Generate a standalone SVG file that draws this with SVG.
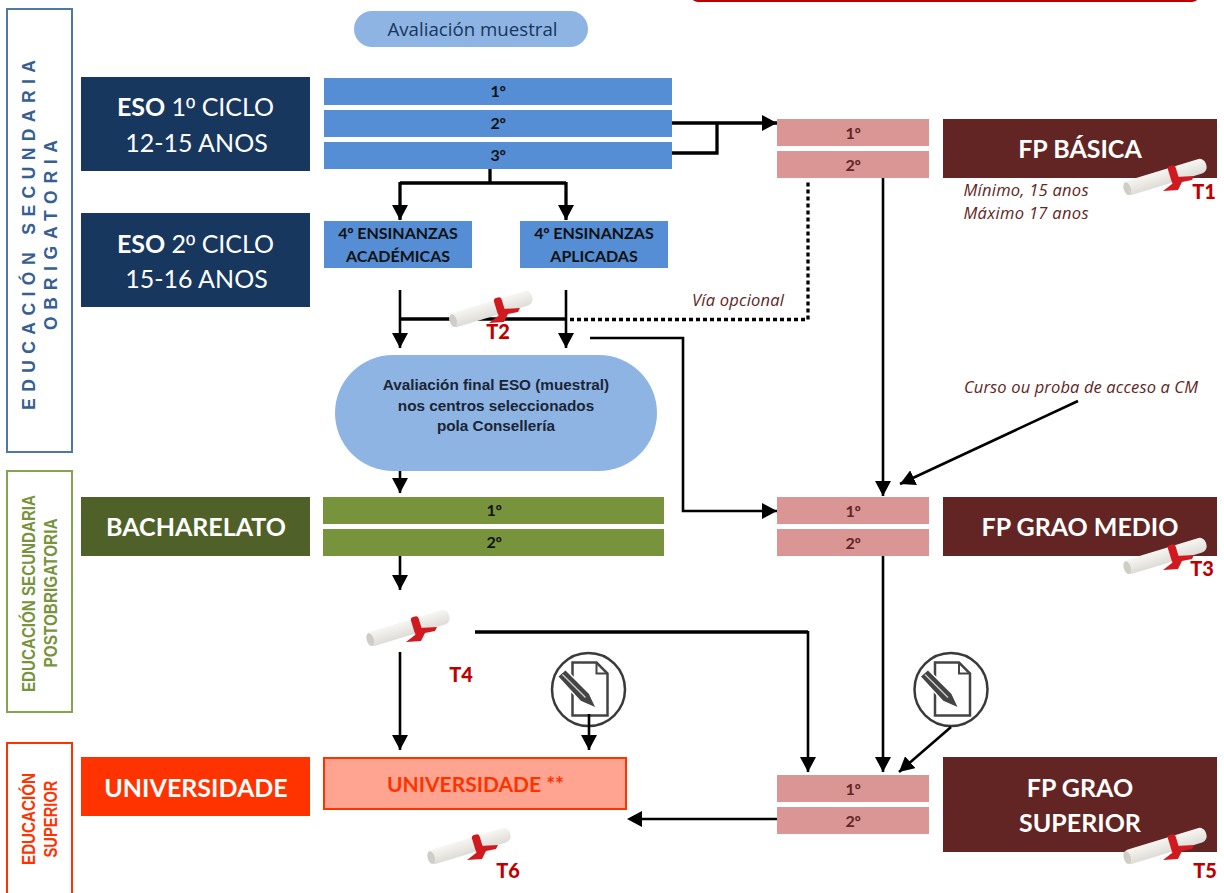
<svg xmlns="http://www.w3.org/2000/svg" width="1224" height="893" viewBox="0 0 1224 893">
<style>
text{font-family:"Lato","Carlito","Open Sans",sans-serif;text-anchor:middle}
.o{font-family:"Liberation Sans",Arial,sans-serif}
.e{font-family:"Open Sans",sans-serif}
.big{font-size:25px;fill:#fff}
.head{font-size:25px;fill:#fff;font-weight:700}
.bar{font-size:16px;font-weight:700;fill:#111}
.pk{font-size:16px;font-weight:700;fill:#632523}
.sm{font-size:16px;font-weight:700;fill:#111}
.note{font-family:"Open Sans",sans-serif;font-size:16.500px;font-style:italic;fill:#632523}
.t{font-size:20px;font-weight:900;fill:#C00000}
.side{font-family:"Liberation Sans",Arial,sans-serif;font-weight:700}
.c{fill:none;stroke:#000;stroke-width:2.6}
.c3{fill:none;stroke:#000;stroke-width:3.3}
.a{marker-end:url(#ah)}
</style>
<defs>
<marker id="ah" markerUnits="userSpaceOnUse" markerWidth="16" markerHeight="16" refX="15" refY="8" orient="auto"><path d="M0 0L15 8L0 16Z" fill="#000"/></marker>
<linearGradient id="rg" x1="0" y1="0" x2="0" y2="1"><stop offset="0" stop-color="#f7f6f2"/><stop offset="1" stop-color="#dddcd6"/></linearGradient>
<g id="scroll">
<g transform="rotate(-17)">
<rect x="-43" y="-7.500" width="86" height="15" rx="6.500" fill="url(#rg)"/>
<ellipse cx="-39.500" cy="0" rx="3.500" ry="6.500" fill="#cfcec6"/>
<rect x="5" y="-9" width="8" height="18" rx="3" fill="#d01a20"/>
</g>
<path d="M11 0L29 -1L27 3L17 5L13 13L-2 14L7 7Z" fill="#d01a20"/>
</g>
<g id="doc">
<circle r="36.500" fill="#fff" stroke="#3a3a3a" stroke-width="2.500"/>
<path d="M-16 -27H8L19 -16V26H-16Z" fill="#fff" stroke="#444" stroke-width="2.500"/>
<path d="M8 -27V-16H19" fill="none" stroke="#444" stroke-width="2"/>
<path d="M-31 -13L-23 -20L1 4L8 19L-8 12Z" fill="#444" stroke="#fff" stroke-width="1.500"/>
<path d="M-26 -15L-3 8" stroke="#ccc" stroke-width="1.500" fill="none"/>
</g>
</defs>
<path d="M693 0Q695 2 700 2H1190Q1195 2 1197 0Z" fill="#C00000"/>

<g id="side-eso"><rect x="7" y="9" width="65" height="443" fill="#fff" stroke="#4F77A8" stroke-width="2"/>
<text class="side" transform="translate(35,235) rotate(-90)" font-size="17.500" fill="#366092" textLength="350">EDUCACIÓN SECUNDARIA</text>
<text class="side" transform="translate(57,235) rotate(-90)" font-size="17.500" fill="#366092" textLength="190">OBRIGATORIA</text></g>
<g id="side-post"><rect x="7" y="471" width="65" height="241" fill="#fff" stroke="#86A34E" stroke-width="2"/>
<text class="side" transform="translate(35,593.500) rotate(-90)" font-size="19" fill="#77933C" textLength="197" lengthAdjust="spacingAndGlyphs">EDUCACIÓN SECUNDARIA</text>
<text class="side" transform="translate(57,593) rotate(-90)" font-size="19" fill="#77933C" textLength="149" lengthAdjust="spacingAndGlyphs">POSTOBRIGATORIA</text></g>
<g id="side-sup"><rect x="7" y="743" width="65" height="152" fill="#fff" stroke="#FF3300" stroke-width="2"/>
<text class="side" transform="translate(35,819) rotate(-90)" font-size="19" fill="#FF3300" textLength="92" lengthAdjust="spacingAndGlyphs">EDUCACIÓN</text>
<text class="side" transform="translate(57,819) rotate(-90)" font-size="19" fill="#FF3300" textLength="77" lengthAdjust="spacingAndGlyphs">SUPERIOR</text></g>

<g id="eval-top"><rect x="354" y="11" width="234" height="36" rx="18" fill="#8EB4E3"/><text class="e" x="472.500" y="36" font-size="18.700" fill="#17365D">Avaliación muestral</text></g>
<g id="eso1"><rect x="81" y="77" width="229" height="94" fill="#17375E"/><text class="big" x="195.500" y="116"><tspan font-weight="700">ESO</tspan> 1<tspan class="o">º</tspan> CICLO</text><text class="big" x="196.500" y="152">12-15 ANOS</text></g>
<g id="eso2"><rect x="81" y="213" width="229" height="94" fill="#17375E"/><text class="big" x="195.500" y="253"><tspan font-weight="700">ESO</tspan> 2<tspan class="o">º</tspan> CICLO</text><text class="big" x="196.500" y="288">15-16 ANOS</text></g>
<g id="c1"><rect x="324" y="78" width="348" height="27" fill="#558ED5"/><text class="bar" x="498" y="97">1<tspan class="o">º</tspan></text></g>
<g id="c2"><rect x="324" y="110" width="348" height="27" fill="#558ED5"/><text class="bar" x="498" y="129">2<tspan class="o">º</tspan></text></g>
<g id="c3"><rect x="324" y="142" width="348" height="27" fill="#558ED5"/><text class="bar" x="498" y="161">3<tspan class="o">º</tspan></text></g>
<g id="c4a"><rect x="324" y="221" width="148" height="47" fill="#558ED5"/><text class="sm" x="398" y="239">4<tspan class="o">º</tspan> ENSINANZAS</text><text class="sm" x="398" y="262">ACADÉMICAS</text></g>
<g id="c4b"><rect x="520" y="221" width="148" height="47" fill="#558ED5"/><text class="sm" x="594" y="239">4<tspan class="o">º</tspan> ENSINANZAS</text><text class="sm" x="594" y="262">APLICADAS</text></g>
<g id="eval-final"><rect x="335" y="355" width="322" height="116" rx="58" fill="#8EB4E3"/>
<g font-size="15.300" fill="#1B2535"><text class="side" x="496" y="390">Avaliación final ESO (muestral)</text><text class="side" x="496" y="411">nos centros seleccionados</text><text class="side" x="496" y="431">pola Consellería</text></g></g>
<g id="bach"><rect x="81" y="497" width="229" height="59" fill="#4F6128"/><text class="head" x="196" y="536">BACHARELATO</text></g>
<g id="b1"><rect x="323" y="497" width="341" height="27" fill="#77933C"/><text class="bar" x="494" y="516">1<tspan class="o">º</tspan></text></g>
<g id="b2"><rect x="323" y="529" width="341" height="27" fill="#77933C"/><text class="bar" x="494" y="548">2<tspan class="o">º</tspan></text></g>
<g id="univ"><rect x="81" y="757" width="229" height="59" fill="#FF3300"/><text class="head" x="196" y="797">UNIVERSIDADE</text></g>
<g id="univ2"><rect x="324" y="758" width="302" height="51" fill="#FFA491" stroke="#FF3300" stroke-width="2"/><text x="475.500" y="792" font-size="21" font-weight="700" fill="#FF3300">UNIVERSIDADE **</text></g>
<g id="fpb1"><rect x="777" y="119" width="152" height="27" fill="#D99694"/><text class="pk" x="853" y="139">1<tspan class="o">º</tspan></text></g>
<g id="fpb2"><rect x="777" y="151" width="152" height="27" fill="#D99694"/><text class="pk" x="853" y="171">2<tspan class="o">º</tspan></text></g>
<g id="fpm1"><rect x="777" y="497" width="152" height="27" fill="#D99694"/><text class="pk" x="853" y="517">1<tspan class="o">º</tspan></text></g>
<g id="fpm2"><rect x="777" y="529" width="152" height="27" fill="#D99694"/><text class="pk" x="853" y="549">2<tspan class="o">º</tspan></text></g>
<g id="fps1"><rect x="777" y="775" width="152" height="27" fill="#D99694"/><text class="pk" x="853" y="795">1<tspan class="o">º</tspan></text></g>
<g id="fps2"><rect x="777" y="807" width="152" height="27" fill="#D99694"/><text class="pk" x="853" y="827">2<tspan class="o">º</tspan></text></g>
<g id="fpb"><rect x="943" y="119" width="274" height="59" fill="#632523"/><text class="head" x="1080" y="158">FP BÁSICA</text></g>
<g id="fpm"><rect x="943" y="497" width="274" height="59" fill="#632523"/><text class="head" x="1080" y="536">FP GRAO MEDIO</text></g>
<g id="fps"><rect x="943" y="757" width="274" height="95" fill="#632523"/><text class="head" x="1080" y="797">FP GRAO</text><text class="head" x="1080" y="832">SUPERIOR</text></g>

<g id="connectors">
<path class="c3 a" d="M672 123H777"/>
<path class="c3" d="M672 153H717V123"/>
<path class="c3" d="M490 169V183M400 183H566"/>
<path class="c3 a" d="M400 182V220"/>
<path class="c3 a" d="M566 182V220"/>
<path class="c a" d="M400 290V348"/>
<path class="c a" d="M566 290V348"/>
<path class="c3" d="M400 319H566"/>
<path d="M570 319.500H808V180" fill="none" stroke="#000" stroke-width="3.300" stroke-dasharray="4 3"/>
<path class="c a" d="M590 338H683V511H777"/>
<path class="c a" d="M883 178V496"/>
<path class="c a" d="M1078 401L900 484"/>
<path class="c a" d="M400 471V493"/>
<path class="c a" d="M400 556V590"/>
<path class="c3" d="M475 632H808"/>
<path class="c a" d="M808 631V772"/>
<path class="c a" d="M400 652V750"/>
<path class="c a" d="M883 556V772"/>
<path class="c" d="M640 819H777"/>
<path d="M642 811L627 819L642 827Z" fill="#000"/>
</g>

<g id="doc1"><use href="#doc" x="588.500" y="689.500"/></g>
<g id="doc2"><use href="#doc" x="951" y="689.500"/></g>
<path class="c a" d="M589 714V750"/>
<path class="c a" d="M951 727L899 772"/>

<g id="d1"><use href="#scroll" x="1165" y="177"/><text class="t" x="1204" y="199">T1</text></g>
<g id="d2"><use href="#scroll" x="491" y="309"/><text class="t" x="498" y="339">T2</text></g>
<g id="d3"><use href="#scroll" x="1165" y="556"/><text class="t" x="1202" y="576">T3</text></g>
<g id="d4"><use href="#scroll" x="408" y="628"/><text class="t" x="461" y="682">T4</text></g>
<g id="d5"><use href="#scroll" x="1165" y="846"/><text class="t" x="1205" y="878">T5</text></g>
<g id="d6"><use href="#scroll" x="469" y="846"/><text class="t" x="508" y="878">T6</text></g>

<text class="note" x="1026" y="196" textLength="125">Mínimo, 15 anos</text>
<text class="note" x="1026" y="219" textLength="125">Máximo 17 anos</text>
<text class="note" x="738" y="306" textLength="92">Vía opcional</text>
<text class="note" x="1081" y="393" textLength="234">Curso ou proba de acceso a CM</text>
</svg>
